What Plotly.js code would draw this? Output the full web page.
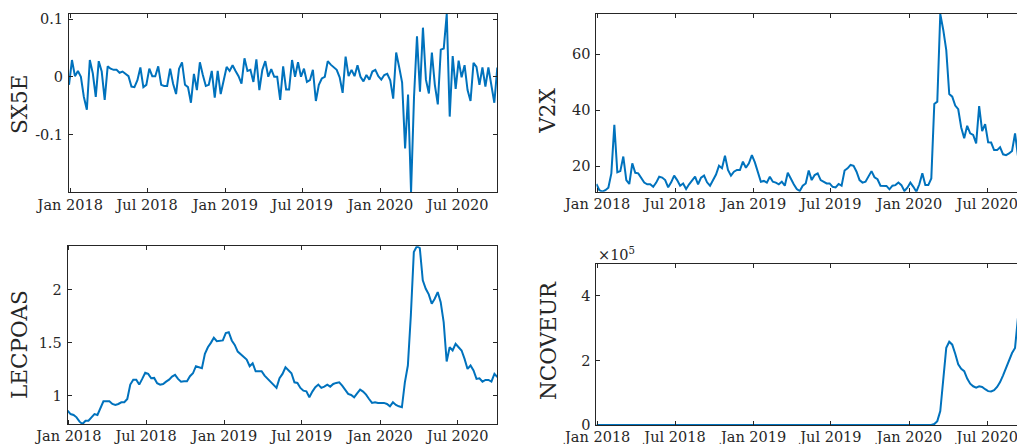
<!DOCTYPE html>
<html>
<head>
<meta charset="utf-8">
<script src="https://cdn.plot.ly/plotly-3.0.1.min.js"></script>
<style>
html, body { margin: 0; padding: 0; overflow: hidden; background: #fff; }
#chart { width: 1028px; height: 444px; }
</style>
</head>
<body>
<div id="chart"></div>
<script>
// ---- data (weekly, Fridays, starting 29 Dec 2017) ----
const startDate = '2017-12-29';
const xRange = ['2017-12-29', '2020-10-02'];
const tickDates = ['2018-01-01', '2018-07-01', '2019-01-01', '2019-07-01', '2020-01-01', '2020-07-01'];
const tickLabels = ['Jan 2018', 'Jul 2018', 'Jan 2019', 'Jul 2019', 'Jan 2020', 'Jul 2020'];

const seriesNames = ['SX5E', 'V2X', 'LECPOAS', 'NCOVEUR'];

const sx5e = [
 -0.014, 0.029, 0.001, 0.01, 0.0, -0.035, -0.057, 0.029, 0.006, -0.035,
 0.027, 0.009, -0.04, 0.018, 0.014, 0.012, 0.012, 0.007, 0.009, 0.005,
 0.001, -0.017, -0.018, -0.006, 0.016, -0.018, -0.014, 0.014, 0.001, 0.001,
 0.018, -0.014, -0.016, -0.016, 0.014, -0.012, -0.03, 0.014, 0.025, -0.014,
 -0.018, -0.045, 0.005, -0.023, 0.025, 0.003, -0.016, -0.014, 0.01, -0.036,
 0.01, -0.03, -0.006, 0.017, 0.01, 0.02, 0.01, 0.001, -0.012, 0.032,
 0.01, 0.012, -0.009, 0.03, -0.023, 0.012, 0.027, 0.0, 0.013, 0.0,
 0.0, -0.04, 0.018, -0.022, -0.022, 0.029, 0.0, 0.025, 0.0, 0.014,
 -0.009, -0.006, 0.012, -0.042, -0.014, -0.003, 0.0, 0.027, 0.021, 0.017,
 0.012, -0.001, -0.028, 0.035, 0.001, 0.012, 0.001, 0.02, 0.0, -0.008,
 0.003, -0.005, 0.009, 0.012, 0.001, -0.005, 0.003, 0.005, -0.006, -0.038,
 0.042, 0.017, -0.01, -0.124, -0.031, -0.2, -0.035, 0.07, -0.026, 0.085,
 -0.005, -0.029, 0.042, -0.014, -0.048, 0.047, 0.049, 0.1087, -0.069, 0.036,
 -0.021, 0.028, -0.001, 0.02, -0.023, -0.042, 0.024, 0.017, -0.014, 0.016,
 -0.017, 0.016, -0.012, -0.045, 0.016
];

const v2x = [
 13.7, 11.5, 10.95, 11.5, 12.4, 17.5, 34.8, 17.9, 18.3, 23.5,
 15.1, 13.7, 21.1, 17.7, 17.5, 15.7, 14.2, 13.6, 13.6, 12.7,
 14.2, 16.3, 16.0, 15.1, 12.5, 14.3, 16.7, 15.1, 13.1, 13.9,
 11.9, 13.6, 15.1, 16.3, 13.6, 16.0, 16.7, 14.3, 13.1, 15.1,
 17.1, 20.2, 19.3, 23.8, 18.7, 16.7, 18.1, 18.7, 18.7, 21.7,
 19.5, 21.1, 24.0, 21.4, 17.9, 14.5, 14.8, 14.2, 16.3, 14.5,
 14.2, 13.6, 14.5, 13.1, 17.7, 15.5, 13.6, 11.9, 11.2, 13.1,
 13.9, 18.5, 15.1, 16.9, 17.5, 15.1, 14.5, 13.9, 13.9, 12.7,
 12.5, 13.7, 13.1, 18.5, 19.3, 20.5, 20.2, 18.1, 15.1, 14.2,
 14.5, 16.3, 18.3, 16.1, 15.4, 13.1, 13.1, 13.0, 11.8, 13.1,
 13.3, 14.2, 13.3, 11.2, 12.4, 14.2, 12.7, 10.95, 13.6, 17.5,
 13.3, 13.3, 15.7, 42.3, 43.1, 74.4, 68.7, 61.5, 45.8, 44.9,
 41.7, 40.4, 33.9, 30.0, 34.5, 31.8, 31.2, 28.2, 41.5, 32.6,
 35.1, 28.6, 28.5, 25.8, 25.8, 26.8, 24.3, 24.0, 24.6, 25.5,
 31.8, 23.5
];

const lecpoas = [
 0.858, 0.826, 0.817, 0.795, 0.754, 0.732, 0.763, 0.763, 0.795, 0.826,
 0.817, 0.874, 0.946, 0.946, 0.946, 0.921, 0.912, 0.921, 0.937, 0.937,
 0.968, 1.104, 1.151, 1.151, 1.104, 1.158, 1.215, 1.205, 1.164, 1.167,
 1.117, 1.104, 1.110, 1.132, 1.151, 1.180, 1.196, 1.158, 1.132, 1.136,
 1.136, 1.183, 1.211, 1.278, 1.268, 1.259, 1.394, 1.457, 1.498, 1.546,
 1.514, 1.521, 1.521, 1.590, 1.599, 1.521, 1.479, 1.416, 1.388, 1.363,
 1.341, 1.278, 1.306, 1.230, 1.230, 1.230, 1.189, 1.158, 1.126, 1.095,
 1.073, 1.164, 1.205, 1.268, 1.237, 1.211, 1.126, 1.120, 1.073, 1.047,
 1.041, 0.984, 1.038, 1.079, 1.104, 1.073, 1.085, 1.104, 1.085, 1.110,
 1.120, 1.126, 1.095, 1.054, 1.016, 1.006, 0.984, 1.022, 1.057, 1.038,
 1.009, 0.968, 0.931, 0.937, 0.930, 0.931, 0.931, 0.921, 0.899, 0.937,
 0.912, 0.899, 0.890, 1.126, 1.284, 1.757, 2.356, 2.410, 2.394, 2.088,
 2.009, 1.956, 1.868, 1.915, 1.978, 1.883, 1.694, 1.322, 1.457, 1.426,
 1.489, 1.457, 1.426, 1.347, 1.252, 1.284, 1.237, 1.158, 1.164, 1.132,
 1.148, 1.148, 1.132, 1.205, 1.174
];

const ncoveur = [
 0,0,0,0,0,0,0,0,0,0, 0,0,0,0,0,0,0,0,0,0,
 0,0,0,0,0,0,0,0,0,0, 0,0,0,0,0,0,0,0,0,0,
 0,0,0,0,0,0,0,0,0,0, 0,0,0,0,0,0,0,0,0,0,
 0,0,0,0,0,0,0,0,0,0, 0,0,0,0,0,0,0,0,0,0,
 0,0,0,0,0,0,0,0,0,0, 0,0,0,0,0,0,0,0,0,0,
 0,0,0,0,0,0,0,0,0,0, 0,0,0,
 3000, 12000, 43000, 138000, 239000, 258000, 249000, 221000, 188000, 174000,
 167000, 144000, 128000, 120000, 116000, 120000, 118000, 111000, 105000, 104000,
 108000, 118000, 133000, 154000, 177000, 200000, 223000, 239000, 335000
];

const yTickVals = {
  SX5E: [-0.1, 0, 0.1], V2X: [20, 40, 60], LECPOAS: [1, 1.5, 2], NCOVEUR: [0, 200000, 400000]
};
const yTickText = {
  SX5E: ['-0.1', '0', '0.1'], V2X: ['20', '40', '60'], LECPOAS: ['1', '1.5', '2'], NCOVEUR: ['0', '2', '4']
};
const yRanges = {
  SX5E: [-0.2, 0.1087], V2X: [10.95, 74.4], LECPOAS: [0.732, 2.41], NCOVEUR: [0, 500000]
};

// ---- helpers ----
function weeklyDates(n) {
  const out = [];
  const d0 = new Date(startDate + 'T00:00:00Z');
  for (let i = 0; i < n; i++) {
    const d = new Date(d0.getTime() + i * 7 * 86400000);
    out.push(d.toISOString().slice(0, 10));
  }
  return out;
}

const W = 1028, H = 444;
const px = v => v / W;
const py = v => (H - v) / H;

const fontFam = '"DejaVu Serif", "Liberation Serif", serif';
const txtColor = '#262626';
const lineColor = '#0072BD';

const allSeries = [sx5e, v2x, lecpoas, ncoveur];
const traces = allSeries.map((vals, i) => ({
  type: 'scatter', mode: 'lines',
  x: weeklyDates(vals.length), y: vals,
  xaxis: i === 0 ? 'x' : 'x' + (i + 1),
  yaxis: i === 0 ? 'y' : 'y' + (i + 1),
  line: { color: lineColor, width: 2 },
  hoverinfo: 'skip', showlegend: false
}));

function xAxis(dom, anchor) {
  return {
    domain: dom, anchor: anchor, type: 'date', range: xRange,
    tickmode: 'array', tickvals: tickDates, ticktext: tickLabels,
    ticks: 'inside', ticklen: 4, tickwidth: 1, tickcolor: txtColor,
    ticklabelstandoff: -1,
    showline: true, linecolor: txtColor, linewidth: 1, mirror: 'ticks',
    showgrid: false, zeroline: false,
    tickfont: { family: fontFam, size: 14.5, color: txtColor },
    fixedrange: true
  };
}
function yAxis(dom, anchor, name) {
  return {
    domain: dom, anchor: anchor, range: yRanges[name],
    tickmode: 'array', tickvals: yTickVals[name], ticktext: yTickText[name],
    ticks: 'inside', ticklen: 4, tickwidth: 1, tickcolor: txtColor,
    ticklabelstandoff: 2,
    showline: true, linecolor: txtColor, linewidth: 1, mirror: 'ticks',
    showgrid: false, zeroline: false,
    tickfont: { family: fontFam, size: 14.5, color: txtColor },
    fixedrange: true
  };
}

const layout = {
  width: W, height: H,
  margin: { l: 0, r: 0, t: 0, b: 0, pad: 0 },
  paper_bgcolor: '#ffffff', plot_bgcolor: '#ffffff',
  showlegend: false,
  xaxis:  xAxis([px(69), px(497.3)], 'y'),
  yaxis:  yAxis([py(192.2), py(14)], 'x', 'SX5E'),
  xaxis2: xAxis([px(596.4), px(1027)], 'y2'),
  yaxis2: yAxis([py(191.7), py(14)], 'x2', 'V2X'),
  xaxis3: xAxis([px(67.6), px(497.4)], 'y3'),
  yaxis3: yAxis([py(424), py(246.3)], 'x3', 'LECPOAS'),
  xaxis4: xAxis([px(596.4), px(1027)], 'y4'),
  yaxis4: yAxis([py(425), py(263.7)], 'x4', 'NCOVEUR'),
  annotations: [
    { text: seriesNames[0], x: px(19.5), y: py(104.5) },
    { text: seriesNames[1], x: px(548), y: py(110.7) },
    { text: seriesNames[2], x: px(19.5), y: py(344.5) },
    { text: seriesNames[3], x: px(548), y: py(341) }
  ].map(a => Object.assign(a, {
    xref: 'paper', yref: 'paper', xanchor: 'center', yanchor: 'middle',
    textangle: -90, showarrow: false,
    font: { family: fontFam, size: 21.5, color: txtColor }
  })).concat([{
    text: '×10<sup>5</sup>', xref: 'paper', yref: 'paper',
    x: px(596), y: py(265), xanchor: 'left', yanchor: 'bottom',
    showarrow: false, font: { family: fontFam, size: 14.5, color: txtColor }
  }])
};

Plotly.newPlot('chart', traces, layout, { staticPlot: true, displayModeBar: false });
</script>
</body>
</html>
